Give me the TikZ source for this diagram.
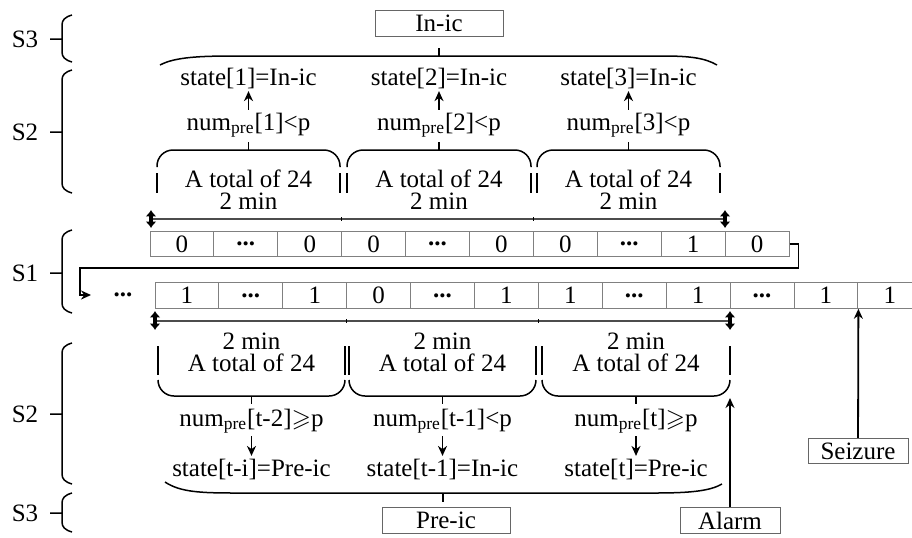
\documentclass[tikz,border=0pt]{standalone}
\usepackage{amssymb}
\usepackage{fontspec}
\setmainfont{Liberation Serif}
\usetikzlibrary{arrows.meta, positioning}

\newcommand{\celldots}{\textbf{...}}

\begin{document}
\begin{tikzpicture}[
    x=0.5pt, y=-0.5pt,
    line width=0.75pt,
    every node/.style={font=\fontsize{12.5}{14}\selectfont, inner sep=1pt},
    cell/.style={draw=gray, line width=0.5pt, minimum width=31.95pt, minimum height=12.8pt, inner sep=0pt},
    box/.style={draw=gray!80!black, line width=0.5pt, minimum height=12.6pt, inner sep=0pt},
    window/.style={align=center, inner sep=0pt, font=\fontsize{12.5}{11}\selectfont},
    arrow/.style={->, line width=0.9pt, >={Stealth[length=5pt, width=4.5pt]}},
    marker/.style={{Latex[length=3.2pt, width=5.5pt]}-{Latex[length=3.2pt, width=5.5pt]}, line width=1.6pt}
]
    \clip (0,0) rectangle (912,537);

    % stage labels with their braces
    \node (lab3a) at (25,39) {S3};
    \node (lab2a) at (25,132) {S2};
    \node (lab1) at (25,273) {S1};
    \node (lab2b) at (25,414) {S2};
    \node (lab3b) at (25,513) {S3};
    \foreach \ya/\yb/\ym in {15/62/39, 70/193/132, 230/313/273, 343/484/414, 493/532/513}
        \draw (72,\ya) .. controls (65,\ya+2) and (62,\ya+5) .. (62,\ya+10) -- (62,\yb-10)
              .. controls (62,\yb-5) and (65,\yb-2) .. (72,\yb)
              (50,\ym) -- (62,\ym);

    % sample rows
    \foreach \v [count=\i] in {0,\celldots,0,0,\celldots,0,0,\celldots,1,0}
        \node (t\i) [cell] at ({150+63.9*(\i-0.5)},244) {\v};
    \foreach \v [count=\i] in {1,\celldots,1,0,\celldots,1,1,\celldots,1,\celldots,1,1}
        \node (b\i) [cell] at ({155+63.9*(\i-0.5)},295.5) {\v};
    \node (bdots) at (123,295) {\celldots};
    \coordinate (loopend) at (91,295);
    \draw [arrow] (t10.east) -- ++(9,0) -- ++(0,24) -| (80,295) -- (loopend);

    % time rulers
    \draw [gray!60!black] (151,219) -- (725,219);
    \draw [gray!60!black] (155,321) -- (730,321);
    \foreach \x in {341.7,533.4} \draw [line width=0.6pt] (\x,217) -- (\x,221);
    \foreach \x in {346.7,538.4} \draw [line width=0.6pt] (\x,319) -- (\x,323);
    \draw [marker] (151,210) -- (151,228);
    \draw [marker] (725,210) -- (725,228);
    \draw [marker] (155,311) -- (155,330);
    \draw [marker] (730,311) -- (730,330);

    % upper windows
    \foreach \l/\r in {157/340, 347/531, 537/720} {
        \pgfmathsetmacro{\c}{(\l+\r)/2}
        \draw [rounded corners=8pt] (\l,167) |- (\c,150) -| (\r,167);
        \draw (\c,150) -- (\c,142);
        \draw (\l,173) -- (\l,193) (\r,173) -- (\r,193);
        \node [window] at (\c,190) {A total of 24\\2 min};
    }
    \node (num1) at (248.5,125) {num\textsubscript{pre}[1]<p};
    \node (num2) at (439,125) {num\textsubscript{pre}[2]<p};
    \node (num3) at (628.5,125) {num\textsubscript{pre}[3]<p};
    \node (st1) at (248.5,78) {state[1]=In-ic};
    \node (st2) at (439,78) {state[2]=In-ic};
    \node (st3) at (628.5,78) {state[3]=In-ic};
    \draw [arrow] (num1) -- (st1);
    \draw [arrow] (num2) -- (st2);
    \draw [arrow] (num3) -- (st3);
    \draw (160,65) .. controls (175,57) and (200,56) .. (235,56) -- (663,56)
          .. controls (690,56) and (705,58) .. (717,65);
    \draw (439,56) -- (439,48);
    \node (inic) [box, minimum width=64pt] at (439,23.5) {In-ic};

    % lower windows
    \foreach \l/\r in {158/345, 349/536, 542/730} {
        \pgfmathsetmacro{\c}{(\l+\r)/2}
        \draw [rounded corners=8pt] (\l,380) |- (\c,396) -| (\r,380);
        \draw (\c,396) -- (\c,404);
        \draw (\l,346) -- (\l,375) (\r,346) -- (\r,375);
        \node [window] at (\c,352) {2 min\\A total of 24};
    }
    \node (numt2) at (251.5,421) {num\textsubscript{pre}[t-2]$\geqslant$p};
    \node (numt1) at (442.5,421) {num\textsubscript{pre}[t-1]<p};
    \node (numt) at (636,421) {num\textsubscript{pre}[t]$\geqslant$p};
    \node (stt2) at (251.5,469) {state[t-i]=Pre-ic};
    \node (stt1) at (442.5,469) {state[t-1]=In-ic};
    \node (stt) at (636,469) {state[t]=Pre-ic};
    \draw [arrow] (numt2) -- (stt2);
    \draw [arrow] (numt1) -- (stt1);
    \draw [arrow] (numt) -- (stt);
    \draw (165,482) .. controls (180,492) and (200,493) .. (235,493) -- (655,493)
          .. controls (690,493) and (710,491) .. (722,484);
    \draw (443,493) -- (443,502);
    \node (preic) [box, minimum width=64pt] at (446,520.5) {Pre-ic};

    % events
    \node (alarm) [box, minimum width=50pt] at (730,520.5) {Alarm};
    \node (seizure) [box, minimum width=50pt] at (858,451) {Seizure};
    \coordinate (alarmtip) at (730,398);
    \draw [arrow] (alarm) -- (alarmtip);
    \draw [arrow] (seizure) -- (b11.south east);
\end{tikzpicture}
\end{document}
